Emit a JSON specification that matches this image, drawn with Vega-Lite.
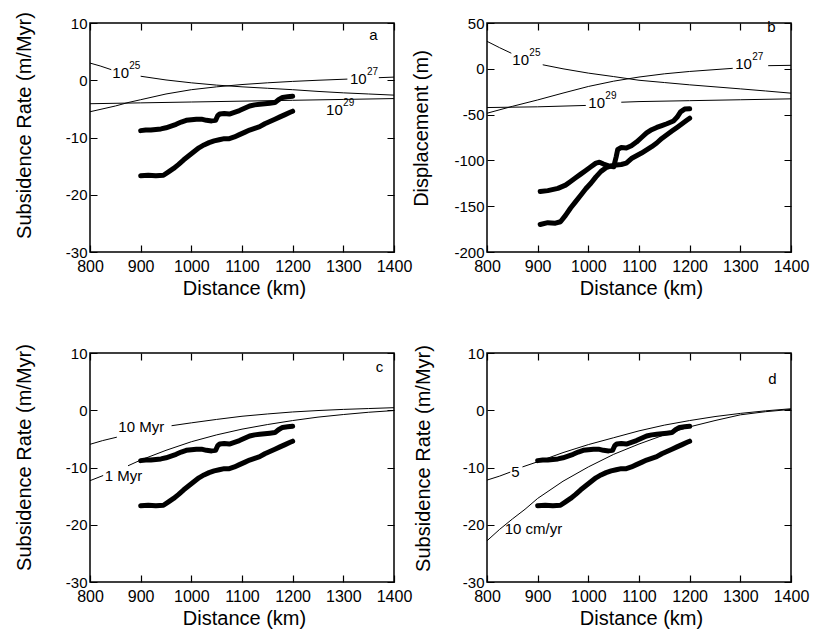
{
"$schema":"https://vega.github.io/schema/vega-lite/v6.json",
"autosize":{"type":"pad"},
"padding":{"left":13,"top":10,"right":5,"bottom":5},
"config":{"font":"Liberation Sans","view":{"stroke":"black","strokeWidth":1.5},"axis":{"labelColor":"black","titleColor":"black","titleFontWeight":"normal","domain":false,"ticks":false,"tickSize":0,"grid":true,"gridColor":"black","gridOpacity":1,"gridWidth":1.2}},
"datasets":{
"obsRate":[
{"curve":"u","x":900,"y":-8.8},{"curve":"u","x":910,"y":-8.7},{"curve":"u","x":920,"y":-8.7},{"curve":"u","x":930,"y":-8.6},{"curve":"u","x":940,"y":-8.5},{"curve":"u","x":950,"y":-8.3},{"curve":"u","x":960,"y":-8.0},{"curve":"u","x":970,"y":-7.7},{"curve":"u","x":980,"y":-7.3},{"curve":"u","x":990,"y":-7.0},{"curve":"u","x":1000,"y":-6.9},{"curve":"u","x":1010,"y":-6.8},{"curve":"u","x":1020,"y":-6.8},{"curve":"u","x":1030,"y":-7.0},{"curve":"u","x":1040,"y":-7.1},{"curve":"u","x":1048,"y":-7.0},{"curve":"u","x":1052,"y":-6.2},{"curve":"u","x":1056,"y":-5.9},{"curve":"u","x":1065,"y":-5.8},{"curve":"u","x":1075,"y":-5.9},{"curve":"u","x":1085,"y":-5.6},{"curve":"u","x":1095,"y":-5.3},{"curve":"u","x":1105,"y":-4.9},{"curve":"u","x":1115,"y":-4.5},{"curve":"u","x":1125,"y":-4.3},{"curve":"u","x":1135,"y":-4.2},{"curve":"u","x":1145,"y":-4.1},{"curve":"u","x":1155,"y":-4.0},{"curve":"u","x":1165,"y":-3.9},{"curve":"u","x":1172,"y":-3.4},{"curve":"u","x":1180,"y":-3.0},{"curve":"u","x":1190,"y":-2.9},{"curve":"u","x":1200,"y":-2.8},
{"curve":"l","x":900,"y":-16.7},{"curve":"l","x":915,"y":-16.6},{"curve":"l","x":930,"y":-16.7},{"curve":"l","x":945,"y":-16.6},{"curve":"l","x":955,"y":-16.0},{"curve":"l","x":965,"y":-15.4},{"curve":"l","x":975,"y":-14.7},{"curve":"l","x":985,"y":-13.9},{"curve":"l","x":995,"y":-13.2},{"curve":"l","x":1005,"y":-12.5},{"curve":"l","x":1015,"y":-11.8},{"curve":"l","x":1025,"y":-11.3},{"curve":"l","x":1035,"y":-10.9},{"curve":"l","x":1045,"y":-10.6},{"curve":"l","x":1055,"y":-10.4},{"curve":"l","x":1065,"y":-10.2},{"curve":"l","x":1075,"y":-10.2},{"curve":"l","x":1085,"y":-9.9},{"curve":"l","x":1095,"y":-9.5},{"curve":"l","x":1105,"y":-9.1},{"curve":"l","x":1115,"y":-8.7},{"curve":"l","x":1125,"y":-8.4},{"curve":"l","x":1135,"y":-8.1},{"curve":"l","x":1145,"y":-7.6},{"curve":"l","x":1155,"y":-7.2},{"curve":"l","x":1165,"y":-6.8},{"curve":"l","x":1175,"y":-6.4},{"curve":"l","x":1185,"y":-6.0},{"curve":"l","x":1195,"y":-5.6},{"curve":"l","x":1200,"y":-5.4}],
"obsDisp":[
{"curve":"u","x":905,"y":-134},{"curve":"u","x":920,"y":-133},{"curve":"u","x":940,"y":-130.5},{"curve":"u","x":955,"y":-127},{"curve":"u","x":965,"y":-123},{"curve":"u","x":975,"y":-119},{"curve":"u","x":985,"y":-115},{"curve":"u","x":995,"y":-111},{"curve":"u","x":1005,"y":-107},{"curve":"u","x":1015,"y":-103},{"curve":"u","x":1022,"y":-102},{"curve":"u","x":1030,"y":-104},{"curve":"u","x":1040,"y":-106},{"curve":"u","x":1050,"y":-107},{"curve":"u","x":1055,"y":-96},{"curve":"u","x":1058,"y":-88},{"curve":"u","x":1065,"y":-86},{"curve":"u","x":1075,"y":-86.5},{"curve":"u","x":1085,"y":-84},{"curve":"u","x":1095,"y":-80},{"curve":"u","x":1105,"y":-75},{"curve":"u","x":1115,"y":-70},{"curve":"u","x":1125,"y":-66.5},{"curve":"u","x":1135,"y":-64},{"curve":"u","x":1145,"y":-62},{"curve":"u","x":1155,"y":-60},{"curve":"u","x":1168,"y":-57},{"curve":"u","x":1175,"y":-53},{"curve":"u","x":1182,"y":-47},{"curve":"u","x":1190,"y":-44},{"curve":"u","x":1200,"y":-43.5},
{"curve":"l","x":905,"y":-170},{"curve":"l","x":920,"y":-168},{"curve":"l","x":935,"y":-168.5},{"curve":"l","x":945,"y":-167},{"curve":"l","x":955,"y":-160},{"curve":"l","x":965,"y":-152},{"curve":"l","x":975,"y":-145},{"curve":"l","x":985,"y":-138},{"curve":"l","x":995,"y":-131},{"curve":"l","x":1005,"y":-125},{"curve":"l","x":1015,"y":-118},{"curve":"l","x":1025,"y":-112},{"curve":"l","x":1035,"y":-108},{"curve":"l","x":1045,"y":-106},{"curve":"l","x":1055,"y":-105},{"curve":"l","x":1065,"y":-104.5},{"curve":"l","x":1075,"y":-103},{"curve":"l","x":1085,"y":-98},{"curve":"l","x":1095,"y":-95},{"curve":"l","x":1105,"y":-92},{"curve":"l","x":1115,"y":-88.5},{"curve":"l","x":1125,"y":-85},{"curve":"l","x":1135,"y":-81},{"curve":"l","x":1145,"y":-76},{"curve":"l","x":1155,"y":-72},{"curve":"l","x":1165,"y":-68},{"curve":"l","x":1175,"y":-64},{"curve":"l","x":1185,"y":-60},{"curve":"l","x":1195,"y":-56},{"curve":"l","x":1200,"y":-54}],
"models":[
{"panel":"a","seg":"25a","x":800,"y":3.0},{"panel":"a","seg":"25a","x":820,"y":2.5},{"panel":"a","seg":"25a","x":842,"y":1.85},
{"panel":"a","seg":"25b","x":900,"y":0.7},{"panel":"a","seg":"25b","x":950,"y":0.05},{"panel":"a","seg":"25b","x":1000,"y":-0.45},{"panel":"a","seg":"25b","x":1050,"y":-0.85},{"panel":"a","seg":"25b","x":1100,"y":-1.15},{"panel":"a","seg":"25b","x":1150,"y":-1.4},{"panel":"a","seg":"25b","x":1200,"y":-1.65},{"panel":"a","seg":"25b","x":1250,"y":-1.95},{"panel":"a","seg":"25b","x":1300,"y":-2.2},{"panel":"a","seg":"25b","x":1350,"y":-2.4},{"panel":"a","seg":"25b","x":1400,"y":-2.6},
{"panel":"a","seg":"27a","x":800,"y":-5.5},{"panel":"a","seg":"27a","x":850,"y":-4.5},{"panel":"a","seg":"27a","x":875,"y":-3.9},{"panel":"a","seg":"27a","x":900,"y":-3.4},{"panel":"a","seg":"27a","x":950,"y":-2.4},{"panel":"a","seg":"27a","x":1000,"y":-1.65},{"panel":"a","seg":"27a","x":1050,"y":-1.15},{"panel":"a","seg":"27a","x":1100,"y":-0.75},{"panel":"a","seg":"27a","x":1150,"y":-0.45},{"panel":"a","seg":"27a","x":1200,"y":-0.2},{"panel":"a","seg":"27a","x":1250,"y":0.0},{"panel":"a","seg":"27a","x":1308,"y":0.2},
{"panel":"a","seg":"27b","x":1370,"y":0.45},{"panel":"a","seg":"27b","x":1400,"y":0.55},
{"panel":"a","seg":"29","x":800,"y":-4.1},{"panel":"a","seg":"29","x":900,"y":-3.95},{"panel":"a","seg":"29","x":1000,"y":-3.8},{"panel":"a","seg":"29","x":1100,"y":-3.65},{"panel":"a","seg":"29","x":1200,"y":-3.5},{"panel":"a","seg":"29","x":1300,"y":-3.35},{"panel":"a","seg":"29","x":1400,"y":-3.2},
{"panel":"b","seg":"25a","x":800,"y":30},{"panel":"b","seg":"25a","x":825,"y":23},{"panel":"b","seg":"25a","x":848,"y":17},
{"panel":"b","seg":"25b","x":910,"y":4.4},{"panel":"b","seg":"25b","x":950,"y":0},{"panel":"b","seg":"25b","x":1000,"y":-4.7},{"panel":"b","seg":"25b","x":1050,"y":-8.5},{"panel":"b","seg":"25b","x":1100,"y":-12.5},{"panel":"b","seg":"25b","x":1150,"y":-15},{"panel":"b","seg":"25b","x":1200,"y":-17.5},{"panel":"b","seg":"25b","x":1250,"y":-19.7},{"panel":"b","seg":"25b","x":1300,"y":-21.9},{"panel":"b","seg":"25b","x":1350,"y":-24.2},{"panel":"b","seg":"25b","x":1400,"y":-26.6},
{"panel":"b","seg":"27a","x":800,"y":-48.5},{"panel":"b","seg":"27a","x":850,"y":-41},{"panel":"b","seg":"27a","x":900,"y":-34},{"panel":"b","seg":"27a","x":950,"y":-26.5},{"panel":"b","seg":"27a","x":1000,"y":-19.3},{"panel":"b","seg":"27a","x":1050,"y":-13.5},{"panel":"b","seg":"27a","x":1100,"y":-9},{"panel":"b","seg":"27a","x":1150,"y":-5.5},{"panel":"b","seg":"27a","x":1200,"y":-2.9},{"panel":"b","seg":"27a","x":1250,"y":-0.9},{"panel":"b","seg":"27a","x":1285,"y":0.5},
{"panel":"b","seg":"27b","x":1355,"y":3.4},{"panel":"b","seg":"27b","x":1400,"y":3.8},
{"panel":"b","seg":"29a","x":800,"y":-42.3},{"panel":"b","seg":"29a","x":900,"y":-41.5},{"panel":"b","seg":"29a","x":995,"y":-40},
{"panel":"b","seg":"29b","x":1065,"y":-36.5},{"panel":"b","seg":"29b","x":1100,"y":-35.8},{"panel":"b","seg":"29b","x":1200,"y":-34.8},{"panel":"b","seg":"29b","x":1300,"y":-33.8},{"panel":"b","seg":"29b","x":1400,"y":-32.8},
{"panel":"c","seg":"10a","x":800,"y":-5.95},{"panel":"c","seg":"10a","x":825,"y":-5.3},{"panel":"c","seg":"10a","x":853,"y":-4.7},
{"panel":"c","seg":"10b","x":961,"y":-2.7},{"panel":"c","seg":"10b","x":1000,"y":-2.2},{"panel":"c","seg":"10b","x":1050,"y":-1.6},{"panel":"c","seg":"10b","x":1100,"y":-1.05},{"panel":"c","seg":"10b","x":1150,"y":-0.65},{"panel":"c","seg":"10b","x":1200,"y":-0.3},{"panel":"c","seg":"10b","x":1250,"y":-0.05},{"panel":"c","seg":"10b","x":1300,"y":0.15},{"panel":"c","seg":"10b","x":1350,"y":0.3},{"panel":"c","seg":"10b","x":1400,"y":0.45},
{"panel":"c","seg":"1a","x":800,"y":-12.3},{"panel":"c","seg":"1a","x":826,"y":-11.4},
{"panel":"c","seg":"1b","x":875,"y":-9.7},{"panel":"c","seg":"1b","x":900,"y":-8.7},{"panel":"c","seg":"1b","x":950,"y":-7.0},{"panel":"c","seg":"1b","x":1000,"y":-5.5},{"panel":"c","seg":"1b","x":1050,"y":-4.3},{"panel":"c","seg":"1b","x":1100,"y":-3.3},{"panel":"c","seg":"1b","x":1150,"y":-2.5},{"panel":"c","seg":"1b","x":1200,"y":-1.8},{"panel":"c","seg":"1b","x":1250,"y":-1.2},{"panel":"c","seg":"1b","x":1300,"y":-0.75},{"panel":"c","seg":"1b","x":1350,"y":-0.35},{"panel":"c","seg":"1b","x":1400,"y":-0.05},
{"panel":"d","seg":"5a","x":800,"y":-12.2},{"panel":"d","seg":"5a","x":825,"y":-11.5},{"panel":"d","seg":"5a","x":846,"y":-10.8},
{"panel":"d","seg":"5b","x":870,"y":-9.9},{"panel":"d","seg":"5b","x":900,"y":-9.0},{"panel":"d","seg":"5b","x":950,"y":-7.4},{"panel":"d","seg":"5b","x":1000,"y":-6.0},{"panel":"d","seg":"5b","x":1050,"y":-4.8},{"panel":"d","seg":"5b","x":1100,"y":-3.6},{"panel":"d","seg":"5b","x":1150,"y":-2.6},{"panel":"d","seg":"5b","x":1200,"y":-1.8},{"panel":"d","seg":"5b","x":1250,"y":-1.1},{"panel":"d","seg":"5b","x":1300,"y":-0.55},{"panel":"d","seg":"5b","x":1350,"y":-0.1},{"panel":"d","seg":"5b","x":1400,"y":0.26},
{"panel":"d","seg":"10","x":800,"y":-22.8},{"panel":"d","seg":"10","x":825,"y":-20.8},{"panel":"d","seg":"10","x":850,"y":-19.0},{"panel":"d","seg":"10","x":875,"y":-17.3},{"panel":"d","seg":"10","x":900,"y":-15.4},{"panel":"d","seg":"10","x":950,"y":-12.4},{"panel":"d","seg":"10","x":1000,"y":-9.9},{"panel":"d","seg":"10","x":1050,"y":-7.7},{"panel":"d","seg":"10","x":1100,"y":-5.9},{"panel":"d","seg":"10","x":1150,"y":-4.3},{"panel":"d","seg":"10","x":1200,"y":-2.9},{"panel":"d","seg":"10","x":1250,"y":-1.8},{"panel":"d","seg":"10","x":1300,"y":-0.8},{"panel":"d","seg":"10","x":1350,"y":-0.25},{"panel":"d","seg":"10","x":1400,"y":0.15}],
"labels":[
{"panel":"a","x":844,"y":1.3,"base":"10","exp":"25"},{"panel":"a","x":1313,"y":0.3,"base":"10","exp":"27"},{"panel":"a","x":1266,"y":-5.2,"base":"10","exp":"29"},{"panel":"a","x":1351,"y":7.9,"base":"a"},
{"panel":"b","x":850,"y":9.5,"base":"10","exp":"25"},{"panel":"b","x":1290,"y":5.5,"base":"10","exp":"27"},{"panel":"b","x":1000,"y":-37.6,"base":"10","exp":"29"},{"panel":"b","x":1353,"y":45.5,"base":"b"},
{"panel":"c","x":856,"y":-2.9,"base":"10 Myr"},{"panel":"c","x":829,"y":-11.4,"base":"1 Myr"},{"panel":"c","x":1364,"y":7.5,"base":"c"},
{"panel":"d","x":848,"y":-10.8,"base":"5"},{"panel":"d","x":835,"y":-20.8,"base":"10 cm/yr"},{"panel":"d","x":1355,"y":5.5,"base":"d"}]
},
"bounds":"flush",
"columns":2,
"spacing":{"row":101,"column":93},
"concat":[
{"width":304,"height":229,"layer":[
{"data":{"name":"obsRate"},"mark":{"type":"line","strokeWidth":5,"color":"black","strokeCap":"round","strokeJoin":"round"},
"encoding":{"x":{"field":"x","type":"quantitative","scale":{"domain":[800,1400],"nice":false,"zero":false},"axis":{"orient":"bottom","values":[800,900,1000,1100,1200,1300,1400],"labelExpr":"'' + datum.value","gridDash":[7,215,7,1000],"labelFlush":false,"labelOverlap":false,"labelPadding":6,"labelFontSize":16,"title":"Distance (km)","titleX":154,"titleY":36,"titleBaseline":"middle","titleFontSize":20}},
"y":{"field":"y","type":"quantitative","scale":{"domain":[-30,10],"nice":false,"zero":false},"axis":{"orient":"left","values":[-30,-20,-10,0,10],"labelExpr":"'' + datum.value","gridDash":[7,290,7,1000],"labelFlush":false,"labelOverlap":false,"labelPadding":3,"labelFontSize":15,"title":"Subsidence Rate (m/Myr)","titleX":-66,"titleY":102,"titleBaseline":"middle","titleFontSize":20}},
"detail":{"field":"curve"}}},
{"data":{"name":"models"},"transform":[{"filter":"datum.panel === 'a'"}],"mark":{"type":"line","strokeWidth":1,"color":"black","clip":true},
"encoding":{"x":{"field":"x","type":"quantitative","scale":{"domain":[800,1400],"nice":false,"zero":false},"axis":{"orient":"top","values":[820,840,860,880,920,940,960,980,1020,1040,1060,1080,1120,1140,1160,1180,1220,1240,1260,1280,1320,1340,1360,1380],"labels":false,"title":null,"gridDash":[3.5,222,3.5,1000]}},
"y":{"field":"y","type":"quantitative","scale":{"domain":[-30,10],"nice":false,"zero":false},"axis":{"orient":"right","values":[-28,-26,-24,-22,-18,-16,-14,-12,-8,-6,-4,-2,2,4,6,8],"labels":false,"title":null,"gridDash":[3.5,297,3.5,1000]}},
"detail":{"field":"seg"}}},
{"data":{"name":"labels"},"transform":[{"filter":"datum.panel === 'a'"}],"mark":{"type":"text","align":"left","baseline":"middle","fontSize":15,"color":"black"},
"encoding":{"x":{"field":"x","type":"quantitative","axis":null},"y":{"field":"y","type":"quantitative","axis":null},"text":{"field":"base"}}},
{"data":{"name":"labels"},"transform":[{"filter":"datum.panel === 'a' && isValid(datum.exp)"}],"mark":{"type":"text","align":"left","baseline":"middle","fontSize":10,"dx":17,"dy":-7,"color":"black"},
"encoding":{"x":{"field":"x","type":"quantitative","axis":null},"y":{"field":"y","type":"quantitative","axis":null},"text":{"field":"exp"}}}
],"resolve":{"axis":{"x":"independent","y":"independent"}}},
{"width":304,"height":229,"layer":[
{"data":{"name":"obsDisp"},"mark":{"type":"line","strokeWidth":5,"color":"black","strokeCap":"round","strokeJoin":"round"},
"encoding":{"x":{"field":"x","type":"quantitative","scale":{"domain":[800,1400],"nice":false,"zero":false},"axis":{"orient":"bottom","values":[800,900,1000,1100,1200,1300,1400],"labelExpr":"'' + datum.value","gridDash":[7,215,7,1000],"labelFlush":false,"labelOverlap":false,"labelPadding":6,"labelFontSize":16,"title":"Distance (km)","titleX":154,"titleY":36,"titleBaseline":"middle","titleFontSize":20}},
"y":{"field":"y","type":"quantitative","scale":{"domain":[-200,50],"nice":false,"zero":false},"axis":{"orient":"left","values":[-200,-150,-100,-50,0,50],"labelExpr":"'' + datum.value","gridDash":[7,290,7,1000],"labelFlush":false,"labelOverlap":false,"labelPadding":3,"labelFontSize":15,"title":"Displacement (m)","titleX":-66,"titleY":105,"titleBaseline":"middle","titleFontSize":20}},
"detail":{"field":"curve"}}},
{"data":{"name":"models"},"transform":[{"filter":"datum.panel === 'b'"}],"mark":{"type":"line","strokeWidth":1,"color":"black","clip":true},
"encoding":{"x":{"field":"x","type":"quantitative","scale":{"domain":[800,1400],"nice":false,"zero":false},"axis":{"orient":"top","values":[820,840,860,880,920,940,960,980,1020,1040,1060,1080,1120,1140,1160,1180,1220,1240,1260,1280,1320,1340,1360,1380],"labels":false,"title":null,"gridDash":[3.5,222,3.5,1000]}},
"y":{"field":"y","type":"quantitative","scale":{"domain":[-200,50],"nice":false,"zero":false},"axis":{"orient":"right","values":[-190,-180,-170,-160,-140,-130,-120,-110,-90,-80,-70,-60,-40,-30,-20,-10,10,20,30,40],"labels":false,"title":null,"gridDash":[3.5,297,3.5,1000]}},
"detail":{"field":"seg"}}},
{"data":{"name":"labels"},"transform":[{"filter":"datum.panel === 'b'"}],"mark":{"type":"text","align":"left","baseline":"middle","fontSize":15,"color":"black"},
"encoding":{"x":{"field":"x","type":"quantitative","axis":null},"y":{"field":"y","type":"quantitative","axis":null},"text":{"field":"base"}}},
{"data":{"name":"labels"},"transform":[{"filter":"datum.panel === 'b' && isValid(datum.exp)"}],"mark":{"type":"text","align":"left","baseline":"middle","fontSize":10,"dx":17,"dy":-7,"color":"black"},
"encoding":{"x":{"field":"x","type":"quantitative","axis":null},"y":{"field":"y","type":"quantitative","axis":null},"text":{"field":"exp"}}}
],"resolve":{"axis":{"x":"independent","y":"independent"}}},
{"width":304,"height":229,"layer":[
{"data":{"name":"obsRate"},"mark":{"type":"line","strokeWidth":5,"color":"black","strokeCap":"round","strokeJoin":"round"},
"encoding":{"x":{"field":"x","type":"quantitative","scale":{"domain":[800,1400],"nice":false,"zero":false},"axis":{"orient":"bottom","values":[800,900,1000,1100,1200,1300,1400],"labelExpr":"'' + datum.value","gridDash":[7,215,7,1000],"labelFlush":false,"labelOverlap":false,"labelPadding":6,"labelFontSize":16,"title":"Distance (km)","titleX":154,"titleY":36,"titleBaseline":"middle","titleFontSize":20}},
"y":{"field":"y","type":"quantitative","scale":{"domain":[-30,10],"nice":false,"zero":false},"axis":{"orient":"left","values":[-30,-20,-10,0,10],"labelExpr":"'' + datum.value","gridDash":[7,290,7,1000],"labelFlush":false,"labelOverlap":false,"labelPadding":3,"labelFontSize":15,"title":"Subsidence Rate (m/Myr)","titleX":-66,"titleY":104,"titleBaseline":"middle","titleFontSize":20}},
"detail":{"field":"curve"}}},
{"data":{"name":"models"},"transform":[{"filter":"datum.panel === 'c'"}],"mark":{"type":"line","strokeWidth":1,"color":"black","clip":true},
"encoding":{"x":{"field":"x","type":"quantitative","scale":{"domain":[800,1400],"nice":false,"zero":false},"axis":{"orient":"top","values":[820,840,860,880,920,940,960,980,1020,1040,1060,1080,1120,1140,1160,1180,1220,1240,1260,1280,1320,1340,1360,1380],"labels":false,"title":null,"gridDash":[3.5,222,3.5,1000]}},
"y":{"field":"y","type":"quantitative","scale":{"domain":[-30,10],"nice":false,"zero":false},"axis":{"orient":"right","values":[-28,-26,-24,-22,-18,-16,-14,-12,-8,-6,-4,-2,2,4,6,8],"labels":false,"title":null,"gridDash":[3.5,297,3.5,1000]}},
"detail":{"field":"seg"}}},
{"data":{"name":"labels"},"transform":[{"filter":"datum.panel === 'c'"}],"mark":{"type":"text","align":"left","baseline":"middle","fontSize":15,"color":"black"},
"encoding":{"x":{"field":"x","type":"quantitative","axis":null},"y":{"field":"y","type":"quantitative","axis":null},"text":{"field":"base"}}}
],"resolve":{"axis":{"x":"independent","y":"independent"}}},
{"width":304,"height":229,"layer":[
{"data":{"name":"obsRate"},"mark":{"type":"line","strokeWidth":5,"color":"black","strokeCap":"round","strokeJoin":"round"},
"encoding":{"x":{"field":"x","type":"quantitative","scale":{"domain":[800,1400],"nice":false,"zero":false},"axis":{"orient":"bottom","values":[800,900,1000,1100,1200,1300,1400],"labelExpr":"'' + datum.value","gridDash":[7,215,7,1000],"labelFlush":false,"labelOverlap":false,"labelPadding":6,"labelFontSize":16,"title":"Distance (km)","titleX":154,"titleY":36,"titleBaseline":"middle","titleFontSize":20}},
"y":{"field":"y","type":"quantitative","scale":{"domain":[-30,10],"nice":false,"zero":false},"axis":{"orient":"left","values":[-30,-20,-10,0,10],"labelExpr":"'' + datum.value","gridDash":[7,290,7,1000],"labelFlush":false,"labelOverlap":false,"labelPadding":3,"labelFontSize":15,"title":"Subsidence Rate (m/Myr)","titleX":-64,"titleY":105,"titleBaseline":"middle","titleFontSize":20}},
"detail":{"field":"curve"}}},
{"data":{"name":"models"},"transform":[{"filter":"datum.panel === 'd'"}],"mark":{"type":"line","strokeWidth":1,"color":"black","clip":true},
"encoding":{"x":{"field":"x","type":"quantitative","scale":{"domain":[800,1400],"nice":false,"zero":false},"axis":{"orient":"top","values":[820,840,860,880,920,940,960,980,1020,1040,1060,1080,1120,1140,1160,1180,1220,1240,1260,1280,1320,1340,1360,1380],"labels":false,"title":null,"gridDash":[3.5,222,3.5,1000]}},
"y":{"field":"y","type":"quantitative","scale":{"domain":[-30,10],"nice":false,"zero":false},"axis":{"orient":"right","values":[-28,-26,-24,-22,-18,-16,-14,-12,-8,-6,-4,-2,2,4,6,8],"labels":false,"title":null,"gridDash":[3.5,297,3.5,1000]}},
"detail":{"field":"seg"}}},
{"data":{"name":"labels"},"transform":[{"filter":"datum.panel === 'd'"}],"mark":{"type":"text","align":"left","baseline":"middle","fontSize":15,"color":"black"},
"encoding":{"x":{"field":"x","type":"quantitative","axis":null},"y":{"field":"y","type":"quantitative","axis":null},"text":{"field":"base"}}}
],"resolve":{"axis":{"x":"independent","y":"independent"}}}
]
}
